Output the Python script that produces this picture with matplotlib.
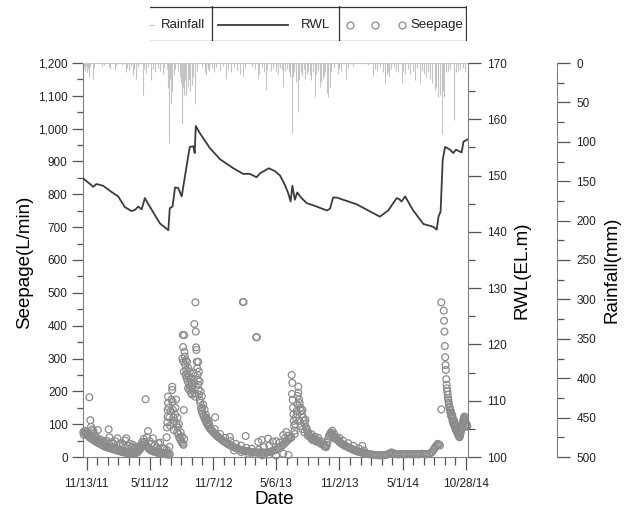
import numpy as np
import pandas as pd
import matplotlib
matplotlib.use('Agg')
import matplotlib.pyplot as plt
from matplotlib.ticker import MultipleLocator, FuncFormatter
from matplotlib.lines import Line2D

plt.rcParams['font.family'] = ['Liberation Sans', 'DejaVu Sans']

# day offsets are counted from 11/13/11
start = pd.Timestamp('2011-11-13')

# reservoir water level (EL.m)
rwl_day = [-10, 14, 19, 28, 47, 71, 90, 109, 128, 138, 147, 157, 166, 180, 209, 233,
           237, 245, 252, 261, 271, 280, 287, 294, 304, 308, 311, 323, 351, 380, 418,
           446, 465, 484, 494, 508, 519, 536, 551, 565, 574, 581, 586, 593, 600, 612,
           627, 655, 684, 693, 702, 712, 769, 835, 859, 883, 890, 897, 907, 930, 959,
           987, 997, 1002, 1008, 1014, 1021, 1035, 1044, 1052, 1068, 1073, 1084]
rwl_val = [149.5, 148.3, 148.0, 148.5, 148.2, 147.1, 146.3, 144.4, 143.7, 143.9, 144.5,
           144.0, 146.0, 144.5, 141.5, 140.3, 144.2, 144.5, 147.9, 147.8, 146.3, 149.8,
           152.5, 155.1, 155.2, 154.0, 158.8, 157.5, 154.9, 152.9, 151.3, 150.3, 150.3,
           149.7, 150.4, 150.9, 151.3, 150.8, 150.0, 148.3, 146.9, 145.4, 148.2, 145.7,
           147.0, 146.0, 145.1, 144.5, 143.8, 144.1, 146.1, 146.1, 144.9, 142.7, 143.8,
           146.0, 145.8, 145.4, 146.3, 143.8, 141.4, 140.9, 140.4, 142.7, 143.6, 152.8,
           155.1, 154.6, 154.0, 154.6, 154.1, 156.0, 156.4]

# daily rainfall (mm)
rain = [(-8, 6), (-5, 10), (-2, 4), (2, 12), (5, 8), (7, 18), (10, 5), (18, 20), (20, 6),
        (45, 4), (50, 3), (63, 5), (66, 8), (80, 9), (85, 4), (100, 3), (112, 12), (116, 6),
        (122, 9), (126, 4), (131, 15), (135, 7), (141, 20), (146, 5), (160, 40), (165, 8),
        (169, 13), (175, 5), (184, 22), (189, 8), (196, 12), (203, 6), (210, 10), (217, 14),
        (222, 5), (228, 8), (232, 32), (236, 102), (239, 20), (241, 52), (244, 35), (248, 15),
        (252, 8), (260, 10), (266, 18), (270, 25), (272, 78), (275, 30), (278, 40), (281, 22),
        (284, 42), (288, 30), (292, 20), (296, 36), (300, 28), (304, 18), (309, 52), (315, 10),
        (330, 6), (338, 12), (341, 15), (345, 8), (350, 10), (356, 6), (362, 12), (370, 5),
        (380, 9), (388, 4), (398, 20), (404, 8), (412, 12), (420, 5), (428, 9), (436, 14),
        (445, 17), (452, 6), (470, 5), (480, 8), (488, 20), (492, 14), (500, 6), (505, 12),
        (510, 34), (515, 8), (524, 10), (532, 6), (540, 12), (546, 14), (552, 6), (556, 9),
        (560, 30), (565, 10), (570, 8), (576, 12), (580, 18), (584, 89), (588, 16), (592, 10),
        (597, 24), (601, 62), (606, 22), (610, 12), (614, 16), (618, 8), (623, 20), (627, 14),
        (631, 10), (636, 15), (640, 22), (645, 12), (650, 43), (654, 14), (658, 10), (664, 30),
        (668, 24), (672, 20), (676, 16), (680, 12), (684, 38), (688, 43), (692, 30), (696, 12),
        (705, 6), (716, 14), (720, 6), (725, 10), (740, 20), (745, 6), (760, 4), (800, 3),
        (816, 16), (820, 8), (826, 10), (836, 5), (844, 12), (850, 26), (854, 14), (858, 10),
        (862, 18), (866, 8), (874, 6), (880, 10), (888, 12), (897, 26), (902, 10), (906, 14),
        (915, 8), (922, 14), (930, 10), (936, 22), (942, 6), (949, 26), (954, 10), (960, 14),
        (966, 18), (972, 12), (978, 20), (984, 25), (992, 34), (996, 30), (1001, 43),
        (1006, 40), (1011, 90), (1014, 36), (1018, 43), (1024, 12), (1030, 10), (1036, 8),
        (1047, 72), (1052, 12), (1058, 10), (1064, 8), (1072, 6), (1078, 12)]

# seepage (L/min), one list per wet season
seep_1 = [(-9, 76), (-6, 74), (-3, 71), (0, 68), (3, 66), (6, 63), (9, 60), (12, 57), (15, 62),
          (18, 54), (21, 51), (24, 49), (27, 46), (30, 50), (33, 43), (36, 41), (39, 44),
          (42, 38), (45, 36), (48, 40), (51, 33), (54, 31), (57, 35), (60, 29), (63, 30),
          (66, 27), (69, 32), (72, 25), (75, 24), (78, 28), (81, 22), (84, 21), (87, 25),
          (90, 19), (93, 18), (96, 22), (99, 16), (102, 15), (105, 19), (108, 14), (111, 13),
          (114, 17), (117, 12), (120, 12), (123, 15), (126, 10), (129, 11), (132, 14),
          (135, 10), (138, 12), (141, 16), (144, 13), (147, 18), (150, 20), (153, 24),
          (156, 30), (159, 36), (162, 42), (165, 46), (168, 40), (171, 34), (174, 30),
          (177, 26), (180, 23), (183, 20), (186, 22), (189, 18), (192, 16), (195, 19),
          (198, 15), (201, 13), (204, 16), (207, 12), (210, 11), (213, 14), (216, 10),
          (219, 12), (222, 9), (225, 11), (228, 8), (231, 10), (234, 7), (237, 9),
          (-8, 68), (-4, 80), (2, 75), (8, 182), (11, 112), (13, 92), (16, 84), (19, 80),
          (22, 70), (25, 62), (28, 58), (32, 82), (35, 55), (40, 52), (44, 48), (50, 45),
          (56, 50), (63, 84), (65, 60), (70, 45), (76, 40), (82, 48), (88, 57), (92, 36),
          (97, 42), (104, 38), (110, 50), (113, 57), (118, 34), (124, 40), (128, 30),
          (132, 37), (137, 28), (142, 30), (146, 26), (152, 34), (158, 45), (163, 55),
          (168, 176), (172, 60), (175, 79), (180, 48), (184, 40), (189, 57), (194, 36),
          (200, 30), (205, 42), (210, 44), (216, 28), (222, 25), (228, 22), (236, 31)]
seep_2 = [(228, 60), (229, 90), (230, 105), (231, 123), (231, 143), (232, 164), (232, 184),
          (234, 150), (236, 120), (238, 95), (240, 140), (242, 175), (244, 204), (244, 214),
          (245, 168), (246, 143), (247, 120), (248, 103), (249, 82), (250, 110), (252, 130),
          (253, 150), (255, 175), (256, 100), (258, 75), (259, 120), (260, 90), (262, 70),
          (263, 100), (264, 60), (266, 55), (268, 75), (269, 50), (271, 45), (272, 62),
          (274, 40), (276, 37), (277, 143), (278, 55),
          (273, 300), (274, 372), (275, 335), (276, 290), (277, 260), (278, 371), (279, 320),
          (280, 306), (281, 280), (282, 250), (283, 295), (284, 265), (285, 240), (286, 290),
          (287, 255), (288, 230), (289, 210), (290, 270), (291, 245), (292, 220), (293, 204),
          (294, 260), (295, 235), (296, 214), (297, 195), (298, 240), (299, 225), (300, 205),
          (301, 190), (302, 215), (305, 255), (306, 225), (307, 405), (308, 194), (309, 184),
          (310, 471), (311, 382), (312, 334), (313, 326), (314, 290), (315, 270), (316, 250),
          (317, 235), (318, 220), (319, 204), (320, 190), (322, 174), (324, 165), (326, 148),
          (328, 140), (330, 133), (333, 125), (336, 118), (339, 110), (342, 103), (345, 97),
          (348, 92), (351, 87), (354, 84), (357, 80), (360, 77), (363, 72), (366, 121),
          (367, 70), (370, 66), (373, 63), (376, 60), (380, 57), (384, 53), (388, 50),
          (392, 47), (396, 44), (400, 41), (404, 38), (408, 61), (409, 36), (414, 33),
          (419, 30), (424, 28), (429, 26), (434, 24), (439, 22), (444, 20), (445, 472),
          (447, 472), (449, 19), (453, 64), (454, 18), (459, 17), (464, 16), (469, 15),
          (474, 15), (479, 14), (483, 365), (485, 365), (484, 14), (489, 46), (489, 14),
          (494, 13), (499, 52), (499, 13), (504, 14), (509, 13), (514, 14), (517, 56),
          (519, 15), (524, 16), (529, 18), (534, 20), (539, 22), (540, 48), (544, 25),
          (549, 28), (554, 32), (558, 36), (560, 67), (562, 40), (566, 44), (569, 76),
          (570, 48), (574, 52), (578, 56), (581, 58),
          (420, 20), (440, 15), (460, 10), (480, 8), (500, 5), (520, 8), (540, 4), (560, 10),
          (575, 6), (330, 150), (340, 128), (350, 100), (365, 85), (380, 70), (395, 58),
          (410, 48), (425, 40), (440, 35), (455, 28), (470, 25), (490, 22), (505, 30),
          (520, 35), (530, 47), (550, 44), (565, 56), (575, 65), (318, 290), (320, 260),
          (322, 230), (325, 200), (328, 185), (332, 160), (336, 145), (340, 120), (344, 115),
          (348, 105)]
seep_3 = [(583, 60), (584, 250), (585, 192), (586, 226), (587, 174), (588, 150), (589, 130),
          (590, 110), (591, 95), (592, 80), (593, 70), (594, 100), (596, 120), (598, 140),
          (600, 160), (601, 186), (603, 214), (603, 196), (605, 175), (607, 164), (609, 150),
          (611, 140), (613, 130), (615, 143), (617, 120), (619, 110), (621, 100), (623, 113),
          (625, 90), (627, 85), (629, 78), (631, 72), (634, 66), (637, 60), (640, 56),
          (643, 52), (646, 58), (649, 50), (652, 52), (655, 47), (658, 46), (661, 50),
          (664, 44), (667, 40), (670, 46), (673, 38), (676, 34), (679, 32), (682, 30),
          (684, 36), (686, 45), (688, 55), (690, 62), (692, 68), (694, 72), (696, 75),
          (698, 72), (700, 68), (703, 62), (706, 58), (709, 55), (712, 60), (715, 52),
          (718, 48), (721, 45), (724, 42), (727, 40), (730, 38), (734, 35), (738, 33),
          (742, 31), (746, 29), (750, 27), (754, 25), (758, 23), (762, 21), (766, 19),
          (770, 18), (774, 16), (778, 15), (782, 14), (785, 34), (786, 13), (790, 12),
          (794, 11), (798, 10), (802, 9), (806, 8), (810, 8), (815, 7), (820, 6), (825, 6),
          (830, 5), (835, 5), (840, 6), (845, 5), (850, 6), (855, 7), (860, 9), (864, 12),
          (868, 14), (872, 12), (876, 10), (880, 9), (885, 8), (890, 8), (895, 9), (900, 8),
          (905, 9), (910, 8), (915, 9), (920, 9), (925, 8), (930, 9), (935, 8), (940, 9),
          (945, 8), (950, 9), (955, 10), (960, 9), (965, 8), (970, 9), (975, 10), (980, 12),
          (984, 16), (988, 22), (991, 27), (994, 32), (997, 36), (1000, 40), (1003, 38),
          (1006, 35), (600, 130), (605, 110), (610, 95), (615, 85), (620, 75), (630, 65),
          (640, 70), (650, 62), (660, 58), (700, 80), (705, 70), (720, 58), (730, 50),
          (745, 42), (760, 34), (775, 26), (790, 20)]
seep_4 = [(1010, 471), (1010, 145), (1017, 446), (1018, 415), (1019, 382), (1020, 338),
          (1021, 304), (1022, 280), (1023, 265), (1024, 237), (1025, 220), (1026, 209),
          (1027, 200), (1028, 190), (1029, 180), (1030, 174), (1031, 165), (1032, 160),
          (1033, 152), (1034, 150), (1035, 142), (1036, 135), (1037, 140), (1038, 125),
          (1039, 130), (1040, 120), (1041, 128), (1042, 110), (1043, 118), (1044, 105),
          (1045, 100), (1046, 112), (1047, 96), (1048, 95), (1049, 102), (1050, 85),
          (1051, 92), (1052, 88), (1053, 80), (1054, 86), (1055, 76), (1056, 72), (1057, 80),
          (1058, 68), (1059, 65), (1060, 74), (1061, 62), (1062, 60), (1063, 66), (1064, 70),
          (1065, 75), (1066, 80), (1067, 85), (1068, 88), (1069, 92), (1070, 96), (1071, 100),
          (1072, 108), (1073, 112), (1074, 115), (1075, 120), (1076, 123), (1077, 118),
          (1078, 112), (1079, 105), (1080, 100), (1081, 95), (1082, 92), (1083, 98),
          (1084, 94)]

tick_dates = pd.date_range('2011-11-13', periods=7, freq='180D')
minor_dates = pd.date_range('2011-11-13', periods=37, freq='30D')


def to_dates(days):
    return start + pd.to_timedelta(np.asarray(days), unit='D')


SPINE = '#808080'
TICK = '#555555'

fig = plt.figure(figsize=(6.32, 5.08), dpi=100)
ax = fig.add_axes([83 / 632, 51 / 508, 385 / 632, 394 / 508])
ax_rwl = ax.twinx()
ax_rain = ax.twinx()

# rainfall hanging from the top
rain_d, rain_v = zip(*rain)
ax_rain.vlines(to_dates(rain_d), 0, rain_v, color='#c4c4c4', lw=0.8)
ax_rain.set_ylim(500, 0)

# RWL line
ax_rwl.plot(to_dates(rwl_day), rwl_val, color='#3c3c3c', lw=1.3)
ax_rwl.set_ylim(100, 170)

# seepage circles
seep = seep_1 + seep_2 + seep_3 + seep_4
sd, sv = zip(*seep)
ax.scatter(to_dates(sd), sv, s=24, facecolors='none', edgecolors='#8c8c8c', linewidths=0.9,
           zorder=3, clip_on=False)
ax.set_ylim(0, 1200)

# axis styling
ax.spines['right'].set_visible(False)
ax.spines['top'].set_color('#c8c8c8')
ax.spines['left'].set_color(SPINE)
ax.spines['bottom'].set_color(SPINE)
for a in (ax_rwl, ax_rain):
    for s in ['left', 'top', 'bottom']:
        a.spines[s].set_visible(False)
    a.spines['right'].set_color(SPINE)
ax_rain.spines['right'].set_position(('axes', (557 - 83) / 385))

ax.yaxis.set_major_locator(MultipleLocator(100))
ax.yaxis.set_minor_locator(MultipleLocator(50))
ax.yaxis.set_major_formatter(FuncFormatter(lambda v, p: f'{int(v):,}'))
ax.set_xticks(tick_dates)
ax.set_xticklabels([f'{d.month}/{d.day}/{d.year % 100}' for d in tick_dates])
ax.set_xticks(minor_dates, minor=True)
ax.set_xlim(start - pd.Timedelta(days=10), start + pd.Timedelta(days=1086))

ax.tick_params(axis='y', which='major', length=8, width=0.9, color=TICK,
               labelsize=8.5, pad=3, labelcolor='#222222')
ax.tick_params(axis='y', which='minor', length=4, width=0.9, color=TICK)
ax.tick_params(axis='x', which='major', length=9, width=0.9, color=TICK,
               labelsize=8.5, pad=6, labelcolor='#222222')
ax.tick_params(axis='x', which='minor', length=5.5, width=0.9, color=TICK)

ax_rwl.yaxis.set_major_locator(MultipleLocator(10))
ax_rwl.yaxis.set_minor_locator(MultipleLocator(5))
ax_rain.yaxis.set_major_locator(MultipleLocator(50))
ax_rain.yaxis.set_minor_locator(MultipleLocator(25))
for a in (ax_rwl, ax_rain):
    a.tick_params(axis='y', which='major', length=9, width=0.9, color=TICK,
                  labelsize=8.5, pad=5, labelcolor='#222222')
    a.tick_params(axis='y', which='minor', length=5, width=0.9, color=TICK)

# axis titles
fig.text(25 / 632, 1 - 262 / 508, 'Seepage(L/min)', rotation=90, ha='center', va='center',
         fontsize=13.5)
fig.text(522 / 632, 1 - 270 / 508, 'RWL(EL.m)', rotation=90, ha='center', va='center',
         fontsize=13.5)
fig.text(612 / 632, 1 - 270 / 508, 'Rainfall(mm)', rotation=90, ha='center', va='center',
         fontsize=13.5)
fig.text(274 / 632, 1 - 499 / 508, 'Date', ha='center', va='center', fontsize=13.5)

# boxed legend at the top, its first cell cut at the left
lg = fig.add_axes([150 / 632, 1 - 41 / 508, 317 / 632, 35 / 508])
lg.set_xlim(0, 317)
lg.set_ylim(35, 0)
lg.axis('off')
box = dict(color='#333333', lw=0.9)
lg.add_line(Line2D([0, 317], [0.5, 0.5], **box))
lg.add_line(Line2D([0, 317], [34.5, 34.5], **box))
for xd in (62, 189, 316.5):
    lg.add_line(Line2D([xd, xd], [0, 35], **box))
lg.add_line(Line2D([0, 4], [19, 19], color='#c4c4c4', lw=0.8))
lg.text(55, 19, 'Rainfall', ha='right', va='center', fontsize=9.5, color='#222222')
lg.add_line(Line2D([68, 138], [19, 19], color='#3c3c3c', lw=1.3))
lg.text(180, 19, 'RWL', ha='right', va='center', fontsize=9.5, color='#222222')
lg.plot([200, 225, 252], [19, 19, 19], ls='none', marker='o', ms=5, mfc='none',
        mec='#8c8c8c', mew=0.9)
lg.text(313, 19, 'Seepage', ha='right', va='center', fontsize=9.5, color='#222222')

fig.savefig('out.png', dpi=100)
